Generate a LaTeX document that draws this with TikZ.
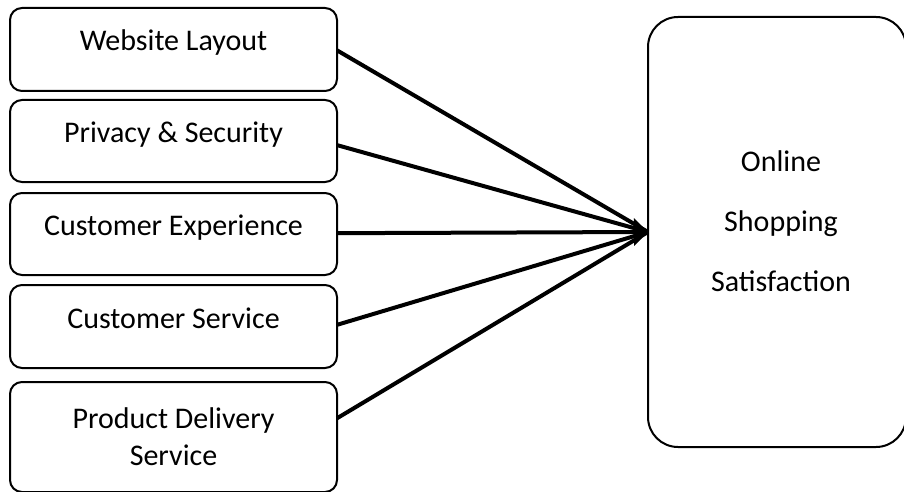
\documentclass[tikz,border=0pt]{standalone}
\usepackage{fontspec}
\setmainfont{Carlito}
\usetikzlibrary{arrows.meta,calc}
\begin{document}
\begin{tikzpicture}[x=1pt,y=-1pt,
  factor/.style={draw,line width=2pt,rounded corners=12pt,minimum width=327pt,
    inner sep=0pt,outer sep=0pt,font=\fontsize{30}{37}\selectfont,align=center},
  oneline/.style={text height=12pt,text depth=9pt},
  target/.style={draw,line width=2pt,rounded corners=30pt,minimum width=258pt,
    minimum height=430pt,inner sep=0pt,outer sep=0pt},
  ttext/.style={font=\fontsize{30}{60}\selectfont,align=center,inner sep=0pt},
  link/.style={line width=4pt},
  tip/.style={-{Triangle[length=14pt,width=27pt]}}]
\clip (0,0) rectangle (904,492);
\useasboundingbox (0,0) rectangle (904,492);
\node[factor,oneline,minimum height=83pt] (b1) at (173.5,49.5) {Website Layout};
\node[factor,oneline,minimum height=82pt] (b2) at (173.5,141) {Privacy \& Security};
\node[factor,oneline,minimum height=82pt] (b3) at (173.5,234) {Customer Experience};
\node[factor,oneline,minimum height=83pt] (b4) at (173.5,326.5) {Customer Service};
\node[factor,minimum height=110pt] (b5) at (173.5,437) {Product Delivery\\Service};
\node[target] (out) at (777,232) {};
\node[ttext] (outtext) at (781,221) {Online\\Shopping\\Satisfaction};
\draw[link] ($(b1.north east)!0.51!(b1.south east)$) -- (out.west);
\draw[link] ($(b2.north east)!0.55!(b2.south east)$) -- (out.west);
\draw[link] ($(b4.north east)!0.48!(b4.south east)$) -- (out.west);
\draw[link] ($(b5.north east)!0.33!(b5.south east)$) -- (out.west);
\draw[link,tip] ($(b3.north east)!0.49!(b3.south east)$) -- (out.west);
\end{tikzpicture}
\end{document}
